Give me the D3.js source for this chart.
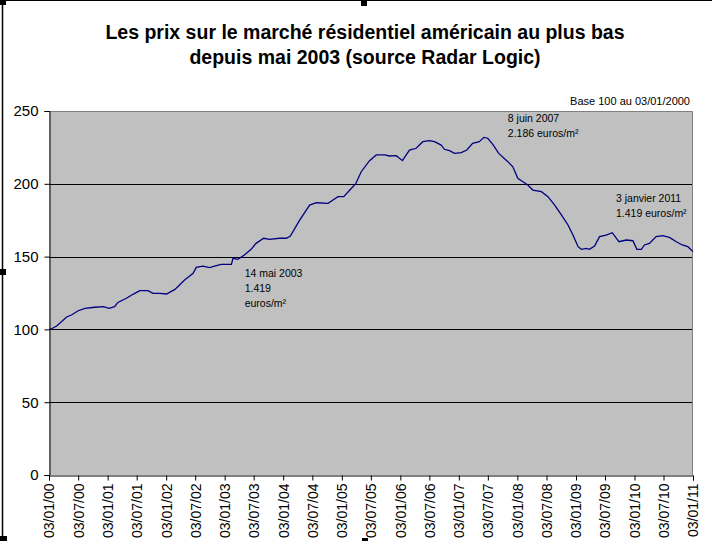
<!DOCTYPE html>
<html><head><meta charset="utf-8">
<script src="https://cdn.jsdelivr.net/npm/d3@7/dist/d3.min.js"></script>
<style>body{margin:0;background:#fff}svg{display:block}</style>
</head><body>
<svg id="c" width="712" height="541"></svg>
<script>
const dates = ["2000-01-03","2000-01-15","2000-02-20","2000-04-22","2000-05-22","2000-07-03","2000-08-15","2000-10-15","2000-12-07","2001-01-12","2001-02-15","2001-03-08","2001-04-30","2001-06-10","2001-07-22","2001-09-12","2001-10-13","2001-11-25","2002-01-05","2002-02-27","2002-04-28","2002-06-20","2002-07-10","2002-08-20","2002-10-01","2002-11-01","2002-12-13","2003-02-14","2003-02-24","2003-03-26","2003-05-06","2003-06-17","2003-07-18","2003-09-03","2003-10-10","2003-12-12","2004-01-23","2004-02-17","2004-04-15","2004-06-16","2004-07-28","2004-10-09","2004-11-09","2004-12-10","2005-01-15","2005-02-22","2005-03-30","2005-05-04","2005-06-25","2005-08-06","2005-09-28","2005-10-28","2005-12-09","2006-01-16","2006-03-01","2006-04-12","2006-05-23","2006-07-04","2006-08-04","2006-09-15","2006-10-05","2006-11-06","2006-12-07","2007-01-18","2007-02-22","2007-03-30","2007-05-11","2007-06-08","2007-07-02","2007-08-02","2007-09-09","2007-11-05","2007-12-06","2008-01-06","2008-02-07","2008-03-08","2008-04-09","2008-06-01","2008-07-12","2008-08-23","2008-10-04","2008-11-14","2008-12-15","2009-01-16","2009-02-06","2009-03-08","2009-03-28","2009-04-29","2009-05-30","2009-07-10","2009-08-17","2009-09-28","2009-11-13","2009-12-24","2010-01-18","2010-02-15","2010-03-06","2010-04-06","2010-05-18","2010-06-28","2010-08-09","2010-09-21","2010-10-28","2010-12-02","2011-01-03"];
const values = [100,100.3,102.3,108.5,109.9,112.8,114.5,115.2,115.6,114.5,115.6,118.5,121.4,124.1,126.6,126.6,124.8,124.8,124.3,127.5,133.9,138.5,142.6,143.5,142.4,143.5,144.7,144.7,148.8,148.1,151.1,155,159.1,162.6,161.9,162.6,162.6,164.1,175.1,185.4,187,186.6,188.9,191.2,191.2,195.7,199.9,208.3,215.9,219.8,219.8,219.1,219.3,215.9,223.2,224.4,228.9,229.6,228.9,226.6,223.7,222.8,220.9,221.4,223.2,227.8,228.9,231.9,231.3,227.3,220.9,215.2,211.7,203.8,201.4,199.2,195.7,194.6,191.2,185.4,178.6,171.7,164.8,156.8,155,155.7,155,157.3,163.7,164.8,166.4,160.2,161.4,160.9,155,155,158,159.1,163.7,164.4,163.2,160.2,158,156.8,153.4];
const yTicks = [0,50,100,150,200,250];
const xTickDates = ["2000-01-03","2000-07-03","2001-01-03","2001-07-03","2002-01-03","2002-07-03","2003-01-03","2003-07-03","2004-01-03","2004-07-03","2005-01-03","2005-07-03","2006-01-03","2006-07-03","2007-01-03","2007-07-03","2008-01-03","2008-07-03","2009-01-03","2009-07-03","2010-01-03","2010-07-03","2011-01-03"];
const titleLines = ["Les prix sur le marché résidentiel américain au plus bas","depuis mai 2003 (source Radar Logic)"];
const baseNote = "Base 100 au 03/01/2000";
const notes = [
  {date:"2007-06-08", value:231.9, lines:["8 juin 2007","2.186 euros/m²"]},
  {date:"2011-01-03", value:153.4, lines:["3 janvier 2011","1.419 euros/m²"]},
  {date:"2003-05-14", value:151.3, lines:["14 mai 2003","1.419","euros/m²"]}
];

const parse = d3.utcParse("%Y-%m-%d");
const svg = d3.select("#c");
const L=49, R=693, T=111, B=475;
const x = d3.scaleUtc().domain([parse("2000-01-03"), parse("2011-01-03")]).range([L,R]);
const y = d3.scaleLinear().domain([0,250]).range([B,T]);
const font = "'Liberation Sans', Arial, sans-serif";

// frame + handles
svg.append("line").attr("x1",2.5).attr("x2",2.5).attr("y1",0).attr("y2",541).attr("stroke","#000").attr("stroke-width",1.5);
svg.append("line").attr("x1",0).attr("x2",712).attr("y1",0.5).attr("y2",0.5).attr("stroke","#000").attr("stroke-width",1);
[[0,0,6,5],[361,0,6,6],[0,269,6,6],[0,536,7,5],[362,538,6,3]].forEach(r=>
  svg.append("rect").attr("x",r[0]).attr("y",r[1]).attr("width",r[2]).attr("height",r[3]).attr("fill","#000"));

// title
svg.append("text").attr("x",365).attr("y",39).attr("text-anchor","middle")
  .attr("font-family",font).attr("font-weight","bold").attr("font-size",19.5).text(titleLines[0]);
svg.append("text").attr("x",365).attr("y",64).attr("text-anchor","middle")
  .attr("font-family",font).attr("font-weight","bold").attr("font-size",19.5).text(titleLines[1]);
svg.append("text").attr("x",690).attr("y",105).attr("text-anchor","end")
  .attr("font-family",font).attr("font-size",11).text(baseNote);

// plot area
svg.append("rect").attr("x",L).attr("y",T).attr("width",R-L).attr("height",B-T).attr("fill","#c0c0c0");
svg.append("g").selectAll("line").data(yTicks.filter(v=>v>0&&v<250)).join("line")
  .attr("x1",L).attr("x2",R).attr("y1",d=>Math.round(y(d))+0.5).attr("y2",d=>Math.round(y(d))+0.5)
  .attr("stroke","#000").attr("stroke-width",1);
svg.append("path").attr("d",`M${L},${T+0.5}H${R-0.5}V${B}`).attr("fill","none").attr("stroke","#808080");

// axes
const yAxis = d3.axisLeft(y).tickValues(yTicks).tickSize(5).tickPadding(6);
const gy = svg.append("g").attr("transform",`translate(${L+0.5},0)`).call(yAxis);
gy.select(".domain").attr("stroke","#000");
gy.selectAll("text").attr("font-family",font).attr("font-size",15).attr("fill","#000");

const xAxis = d3.axisBottom(x).tickValues(xTickDates.map(parse)).tickFormat(d3.utcFormat("%d/%m/%y")).tickSize(5).tickPadding(4);
const gx = svg.append("g").attr("transform",`translate(0,${B+0.5})`).call(xAxis);
gx.select(".domain").attr("stroke","#000");
gx.selectAll("text").attr("font-family",font).attr("font-size",14).attr("fill","#000")
  .attr("transform","rotate(-90)").attr("text-anchor","end").attr("dy","0.35em").attr("x",-8).attr("y",0);

// line
const data = dates.map((d,i)=>({d:parse(d), v:values[i]}));
svg.append("path").datum(data).attr("fill","none").attr("stroke","#000080").attr("stroke-width",1.3)
  .attr("d", d3.line().x(d=>x(d.d)).y(d=>y(d.v)));

// annotations
const noteOffsets = [[24,-15],[-77,-50],[-1,22.5]];
notes.forEach((n,i)=>{
  const t = svg.append("text").attr("font-family",font).attr("font-size",10.5).attr("fill","#000");
  n.lines.forEach((ln,j)=>t.append("tspan").attr("x",x(parse(n.date))+noteOffsets[i][0]).attr("y",y(n.value)+noteOffsets[i][1]+j*15).text(ln));
});
</script>
</body></html>
